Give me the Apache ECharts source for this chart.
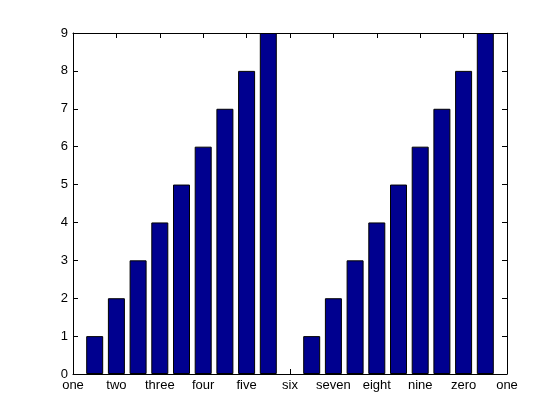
<!DOCTYPE html>
<html>
<head>
<meta charset="utf-8">
<script src="https://cdn.jsdelivr.net/npm/echarts@6/dist/echarts.min.js"></script>
<style>
  html, body { margin: 0; padding: 0; background: #fff; }
  #main { width: 560px; height: 420px; }
</style>
</head>
<body>
<div id="main"></div>
<script>
  // bar positions and heights
  var positions = [0,1,2,3,4,5,6,7,8,9,10,11,12,13,14,15,16,17,18,19];
  var heights = [0,1,2,3,4,5,6,7,8,9,0,1,2,3,4,5,6,7,8,9];
  // x tick labels at 0,2,4,...,20
  var tickLabels = ['one','two','three','four','five','six','seven','eight','nine','zero','one'];

  var barData = [];
  for (var i = 0; i < positions.length; i++) {
    // a zero-height bar shows nothing, not even its edge
    barData.push({
      value: [positions[i], heights[i]],
      itemStyle: heights[i] === 0 ? { borderWidth: 0 } : undefined
    });
  }

  var font = 'Liberation Sans';
  var chart = echarts.init(document.getElementById('main'));
  var plainAxis = {
    axisLine: { show: true, onZero: false, lineStyle: { color: '#000', width: 1 } },
    axisTick: { show: true, inside: true, length: 5, lineStyle: { color: '#000' } },
    splitLine: { show: false }
  };

  chart.setOption({
    animation: false,
    grid: { left: 73, right: 53, top: 33, bottom: 46, containLabel: false },
    xAxis: [
      Object.assign({
        type: 'value', min: 0, max: 20, interval: 2, position: 'bottom',
        axisLabel: {
          color: '#000', fontFamily: font, fontSize: 13, margin: 5,
          formatter: function (v) { return tickLabels[Math.round(v / 2)]; }
        }
      }, plainAxis),
      Object.assign({
        type: 'value', min: 0, max: 20, interval: 2, position: 'top',
        axisLabel: { show: false }
      }, plainAxis)
    ],
    yAxis: [
      Object.assign({
        type: 'value', min: 0, max: 9, interval: 1, position: 'left',
        axisLabel: { color: '#000', fontFamily: font, fontSize: 13, margin: 5 }
      }, plainAxis),
      Object.assign({
        type: 'value', min: 0, max: 9, interval: 1, position: 'right',
        axisLabel: { show: false }
      }, plainAxis)
    ],
    series: [{
      type: 'bar',
      xAxisIndex: 0,
      yAxisIndex: 0,
      data: barData,
      barWidth: 17,
      itemStyle: { color: '#00008F', borderColor: '#000', borderWidth: 1 }
    }]
  });
</script>
</body>
</html>
